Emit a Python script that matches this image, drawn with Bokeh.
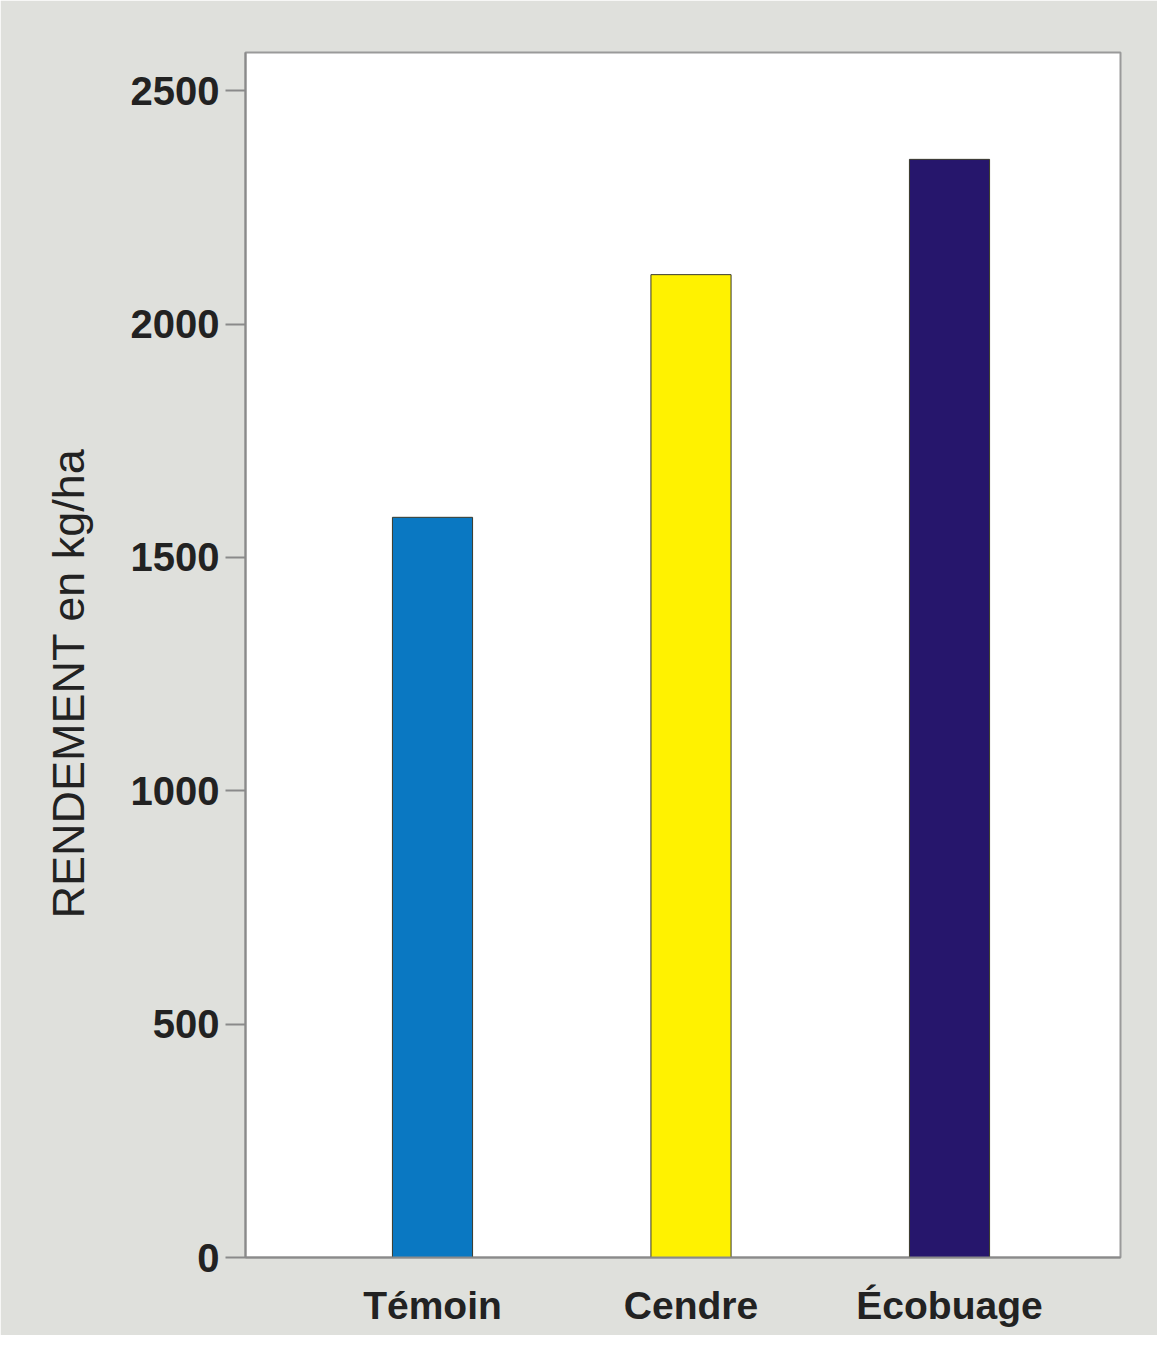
from bokeh.plotting import figure
from bokeh.models import Range1d, FixedTicker, Title
from bokeh.embed import file_html
from bokeh.resources import INLINE

categories = ["Témoin", "Cendre", "Écobuage"]
rendement = [1586, 2106, 2353]
colors = ["#0a78c2", "#fff200", "#26166c"]
y_ticks = [0, 500, 1000, 1500, 2000, 2500]

positions = [1, 2, 3]

p = figure(width=1157, height=1335, output_backend="svg", toolbar_location=None,
           x_range=Range1d(1 - 0.7234, 3 + 0.6615), y_range=Range1d(0, 2582),
           min_border_left=245, min_border_right=37, min_border_top=52, min_border_bottom=78)

p.background_fill_color = "white"
p.border_fill_color = "#dfe0dc"
p.outline_line_color = "#9a9a9a"
p.outline_line_width = 2
p.grid.visible = False

p.vbar(x=positions, top=rendement, width=0.31, bottom=0, fill_color=colors,
       line_color="#3a3a2a", line_width=1)

# y axis
p.yaxis.ticker = FixedTicker(ticks=y_ticks)
p.yaxis.axis_line_color = "#8a8a8a"
p.yaxis.axis_line_width = 2
p.yaxis.major_tick_line_color = "#8a8a8a"
p.yaxis.major_tick_line_width = 2
p.yaxis.major_tick_out = 20
p.yaxis.major_tick_in = 0
p.yaxis.minor_tick_line_color = None
p.yaxis.major_label_text_font = "Liberation Sans"
p.yaxis.major_label_text_font_style = "bold"
p.yaxis.major_label_text_font_size = "40px"
p.yaxis.major_label_text_color = "#222222"
p.yaxis.major_label_standoff = 6

# x axis
p.xaxis.ticker = FixedTicker(ticks=positions)
p.xaxis.major_label_overrides = {pos: c for pos, c in zip(positions, categories)}
p.xaxis.axis_line_color = "#8a8a8a"
p.xaxis.axis_line_width = 2
p.xaxis.major_tick_line_color = None
p.xaxis.minor_tick_line_color = None
p.xaxis.major_label_text_font = "Liberation Sans"
p.xaxis.major_label_text_font_style = "bold"
p.xaxis.major_label_text_font_size = "39px"
p.xaxis.major_label_text_color = "#222222"
p.xaxis.major_label_standoff = 20

t = Title(text="RENDEMENT en kg/ha", align="left", text_font="Liberation Sans",
          text_font_size="45px", text_font_style="normal", text_color="#222222",
          standoff=68, offset=339)
p.add_layout(t, "left")

open("out.html", "w").write(file_html(p, INLINE))
